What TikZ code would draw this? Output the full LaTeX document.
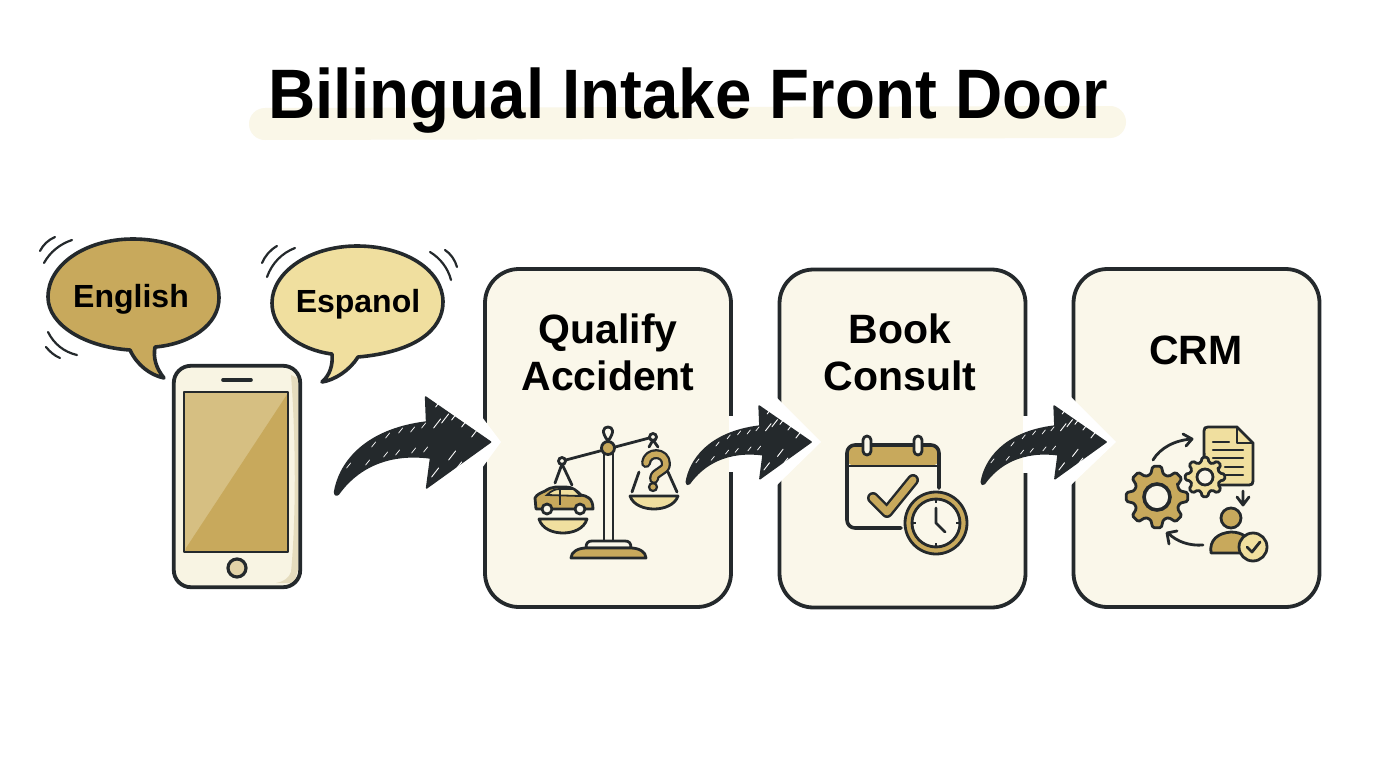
\documentclass[tikz,border=0pt]{standalone}
\usepackage{fontspec}
\setmainfont{Liberation Sans}
\usetikzlibrary{calc}
\definecolor{ink}{HTML}{24292C}
\definecolor{gold}{HTML}{C8A95C}
\definecolor{goldlight}{HTML}{F0DF9F}
\definecolor{goldpale}{HTML}{D6BF82}
\definecolor{cream}{HTML}{FAF7EA}
\definecolor{band}{HTML}{FAF7E8}
\definecolor{phonebody}{HTML}{F8F4E3}
\definecolor{phoneshade}{HTML}{E5DCBE}
\tikzset{
  outline/.style={draw=ink,line width=3.6pt,line join=round,line cap=round},
  thinline/.style={draw=ink,line width=2.8pt,line join=round,line cap=round},
  wobble/.style={draw=ink,line width=2.2pt,line cap=round},
  stepbox/.style={draw=ink,line width=3.8pt,fill=cream,rounded corners=34pt,minimum width=246pt,minimum height=338pt,inner sep=0pt},
  boxlabel/.style={font=\bfseries\fontsize{41}{47}\selectfont,text=black,align=center,inner sep=0pt,anchor=base},
  bubblelabel/.style={font=\bfseries\fontsize{32}{32}\selectfont,text=black,inner sep=0pt,anchor=base},
  swoosh/.pic={
    \fill[ink,line join=round,draw=ink,line width=1.5pt]
      (-156,50) .. controls (-152,25) and (-130,-12) .. (-64,-20)
      -- (-65,-45) -- (0,0) -- (-64,46) -- (-60,16)
      .. controls (-105,10) and (-135,28) .. (-152,52) .. controls (-154,54) and (-156,53) .. cycle;
    \foreach \a/\b in {-144/26,-119/5,-105/-4,-92/-9,-80/-10,-69/-14,-125/23,-107/15,-95/13,-79/11,-67/10}
      \draw[white,line width=.7pt,line cap=round] (\a,\b) -- ++(4,-5);
    \foreach \a/\b in {-57/-14,-49/-19,-39/-22,-29/-15,-19/-5,-42/18,-59/35,-36/29,-55/-35}
      \draw[white,line width=.9pt,line cap=round] (\a,\b) -- ++(7,-9);
  }
}
% Gear outline: centre, outer radius, root radius, fill, tooth half-width in degrees
\newcommand{\cogwheel}[6]{%
  \draw[outline,line width=2.8pt,fill=#5,rounded corners=1.5pt,shift={(#1,#2)}]
    (-22.5-#6:#4)
    \foreach \i in {0,45,...,315}{
      -- (\i-22.5+#6:#4) -- (\i-#6-1:#3) -- (\i+#6+1:#3) -- (\i+22.5-#6:#4)
    } -- cycle;
}
\begin{document}
\begin{tikzpicture}[x=1pt,y=-1pt]
\useasboundingbox (0,0) rectangle (1376,768);
\fill[white] (0,0) rectangle (1376,768);

% Title with its highlight band
\draw[band,line width=32pt,line cap=round] (265,124) -- (1110,122);
\node[inner sep=0pt,anchor=base,text=black] (title) at (688,118) {\scalebox{.935}[1]{\bfseries\fontsize{70}{70}\selectfont Bilingual Intake Front Door}};

% Speech bubbles
\draw[outline,fill=gold] (155,347) .. controls (190,344) and (219,325) .. (219,298)
  .. controls (219,262) and (180,239) .. (133,239)
  .. controls (85,239) and (48,265) .. (48,297)
  .. controls (48,325) and (85,347) .. (130,350)
  .. controls (137,365) and (150,375) .. (164,378)
  .. controls (156,368) and (153,358) .. cycle;
\draw[outline,fill=goldlight] (358,357) .. controls (415,352) and (443,330) .. (443,302)
  .. controls (443,270) and (405,246) .. (357,246)
  .. controls (310,246) and (272,272) .. (272,303)
  .. controls (272,330) and (300,350) .. (332,354)
  .. controls (333,365) and (330,375) .. (322,382)
  .. controls (335,380) and (350,370) .. cycle;
\node[bubblelabel] (english) at (131,307) {English};
\node[bubblelabel] (espanol) at (358,312) {Espanol};

% Motion marks around the bubbles
\draw[wobble] (40,251) .. controls (43,245) and (48,240) .. (55,237);
\draw[wobble] (44,263) .. controls (50,252) and (60,244) .. (72,240);
\draw[wobble] (48,332) .. controls (54,344) and (64,352) .. (77,355);
\draw[wobble] (46,347) .. controls (50,352) and (55,356) .. (60,358);
\draw[wobble] (262,263) .. controls (265,256) and (270,250) .. (277,246);
\draw[wobble] (267,277) .. controls (272,263) and (282,253) .. (295,248);
\draw[wobble] (430,252) .. controls (440,258) and (448,268) .. (451,280);
\draw[wobble] (445,250) .. controls (451,254) and (455,260) .. (457,267);

% Phone
\node[draw=none,fill=phonebody,rounded corners=17pt,minimum width=126pt,minimum height=221pt,inner sep=0pt] (phone) at (237,476.5) {};
\fill[phoneshade] (291,375) .. controls (296,440) and (296,520) .. (291,572) .. controls (289,578) and (283,582) .. (276,583) -- (294,583) -- (298,570) -- (298,378) -- cycle;
\draw[ink,line width=3.8pt,rounded corners=17pt] (phone.south west) rectangle (phone.north east);
\draw[ink,line width=3.6pt,line cap=round] (223,380) -- (251,380);
\fill[goldpale] (184,392) rectangle (288,552);
\fill[gold] (288,393) -- (288,552) -- (185,552) -- (186,548) -- cycle;
\draw[ink,line width=2.8pt,line join=round] (184,392) rectangle (288,552);
\draw[ink,line width=3.2pt,fill=goldpale!70!white] (237,568) circle (9);

% Process steps
\node[stepbox] (box1) at (608,438) {};
\node[stepbox] (box2) at (902.5,438.5) {};
\node[stepbox] (box3) at (1196.5,438) {};
\node[boxlabel] (qualify) at (608,343) {Qualify};
\node[boxlabel] (accident) at (608,390) {Accident};
\node[boxlabel] (book) at (900,343) {Book};
\node[boxlabel] (consult) at (900,390) {Consult};
\node[boxlabel] (crm) at (1196,364) {CRM};

% Openings in the box borders around the arrows
\fill[white] (482,417) -- (501,442) -- (482,468) -- cycle;
\fill[white] (729,416) rectangle (735,472);
\fill[white] (776,397) -- (821,442) -- (776,486) -- cycle;
\fill[white] (1023,416) rectangle (1029,473);
\fill[white] (1070,396) -- (1116,442) -- (1070,486) -- cycle;

% Arrows between the stages
\pic at ($(box1.west)+(7.5,4)$) {swoosh};
\pic[scale=.8] at ($(box2.west)+(33.5,3.5)$) {swoosh};
\pic[scale=.8] at ($(box3.west)+(34.5,4)$) {swoosh};

% Scales icon
\fill[cream] (604,453) rectangle (613,540);
\draw[thinline] (604,453) -- (604,541);
\draw[thinline] (613,453) -- (613,541);
\draw[thinline] (608,441) .. controls (601,432) and (603,427) .. (608,427) .. controls (613,427) and (615,432) .. (608,441);
\draw[thinline] (562,461) -- (653,437);
\draw[thinline,fill=cream] (562,461) circle (3.5);
\draw[thinline,fill=cream] (653,437) circle (3.5);
\draw[thinline,fill=gold] (608,448) circle (6.5);
\draw[thinline] (562,464) -- (555,483);
\draw[thinline] (562,464) -- (572,485);
\draw[thinline] (653,440) -- (649,447);
\draw[thinline] (653,440) -- (658,447);
\draw[thinline] (639,472) -- (632,492);
\draw[thinline] (668,472) -- (677,492);
% Car on the left pan
\draw[thinline,fill=gold] (536,509) -- (535,498) .. controls (537,494) and (541,493) .. (545,491)
  .. controls (552,486) and (558,487) .. (566,487) .. controls (572,487) and (576,490) .. (581,495)
  .. controls (587,496) and (593,498) .. (593,509) -- cycle;
\draw[ink,line width=1.8pt,fill=goldlight] (547,495) .. controls (552,490) and (556,489) .. (560,489) -- (573,489) .. controls (575,490) and (578,493) .. (580,496) -- cycle;
\draw[ink,line width=1.8pt] (560,489) -- (560,505);
\draw[thinline,fill=cream] (547,509) circle (5);
\draw[thinline,fill=cream] (580,509) circle (5);
\draw[thinline,fill=goldlight] (539,519) -- (587,519) .. controls (584,529) and (573,533) .. (563,533) .. controls (553,533) and (542,529) .. cycle;
% Question mark and right pan
\draw[ink,line width=10pt,line cap=round,line join=round] (646,463) .. controls (647,451) and (666,451) .. (666,464) .. controls (666,472) and (654,471) .. (654,479);
\draw[gold,line width=5.4pt,line cap=round,line join=round] (646,463) .. controls (647,451) and (666,451) .. (666,464) .. controls (666,472) and (654,471) .. (654,479);
\draw[ink,line width=2.2pt,fill=gold] (653,487) circle (4);
\draw[thinline,fill=goldlight] (630,496) -- (678,496) .. controls (675,505) and (664,509) .. (654,509) .. controls (644,509) and (633,505) .. cycle;
% Scale base
\draw[thinline,fill=cream] (586,548) .. controls (586,543) and (588,541) .. (592,541) -- (625,541) .. controls (629,541) and (631,543) .. (631,548) -- cycle;
\draw[thinline,fill=gold] (571,558) .. controls (571,552) and (578,548) .. (586,548) -- (631,548) .. controls (639,548) and (646,552) .. (646,558) -- cycle;

% Calendar icon
\fill[gold,rounded corners=8pt] (847,445) -- (939,445) -- (939,466) -- (847,466) -- cycle;
\draw[outline] (939,488) -- (939,453) arc (0:-90:8) -- (855,445) arc (-90:-180:8) -- (847,520) arc (180:90:8) -- (901,528);
\draw[ink,line width=2.8pt] (847,466) -- (939,466);
\draw[thinline,fill=cream,rounded corners=4pt] (863,436) rectangle (871,455);
\draw[thinline,fill=cream,rounded corners=4pt] (914,436) rectangle (922,455);
\draw[ink,line width=12pt,line cap=round,line join=round] (873,498) -- (887,512) -- (913,480);
\draw[gold,line width=7pt,line cap=round,line join=round] (873,498) -- (887,512) -- (913,480);
\draw[thinline,fill=gold] (936,523) circle (31);
\draw[thinline,fill=cream] (936,523) circle (24);
\draw[thinline] (936,508) -- (936,523) -- (945,532);
\draw[ink,line width=1.8pt] (936,499) -- (936,503) (936,543) -- (936,547) (912,523) -- (916,523) (956,523) -- (960,523);

% CRM icon
\draw[thinline] (1153,460) .. controls (1160,448) and (1175,440) .. (1192,439);
\draw[thinline] (1183,434) -- (1192,439) -- (1186,446);
\cogwheel{1157}{497}{31}{23.5}{gold}{7}
\draw[outline,fill=cream] (1157,497) circle (13);
\draw[thinline,fill=goldlight] (1204,431) .. controls (1204,428) and (1205,427) .. (1208,427) -- (1237,427) -- (1253,443) -- (1253,481) .. controls (1253,484) and (1252,485) .. (1249,485) -- (1208,485) .. controls (1205,485) and (1204,484) .. cycle;
\draw[thinline,line width=2.2pt] (1237,427) -- (1237,443) -- (1253,443);
\draw[thinline,line width=2.2pt] (1213,442) -- (1229,442) (1213,450) -- (1243,450) (1213,458) -- (1243,458) (1225,467) -- (1243,467) (1225,475) -- (1243,475);
\cogwheel{1205}{477}{20}{15}{goldlight}{7}
\draw[thinline,fill=cream] (1205,477) circle (8);
\draw[thinline] (1243,491) -- (1243,504) (1237,497) -- (1243,505) -- (1249,497);
\draw[thinline,fill=gold] (1231,518) circle (10);
\draw[thinline,fill=gold] (1211,553) .. controls (1209,540) and (1218,533) .. (1231,532) .. controls (1242,532) and (1250,538) .. (1252,546) -- (1245,553) -- cycle;
\draw[thinline,fill=goldlight] (1253,547) circle (14);
\draw[thinline] (1247,547) -- (1252,552) -- (1260,542);
\draw[thinline] (1203,545) .. controls (1190,546) and (1177,542) .. (1168,533);
\draw[thinline] (1177,531) -- (1167,533) -- (1169,544);
\end{tikzpicture}
\end{document}
